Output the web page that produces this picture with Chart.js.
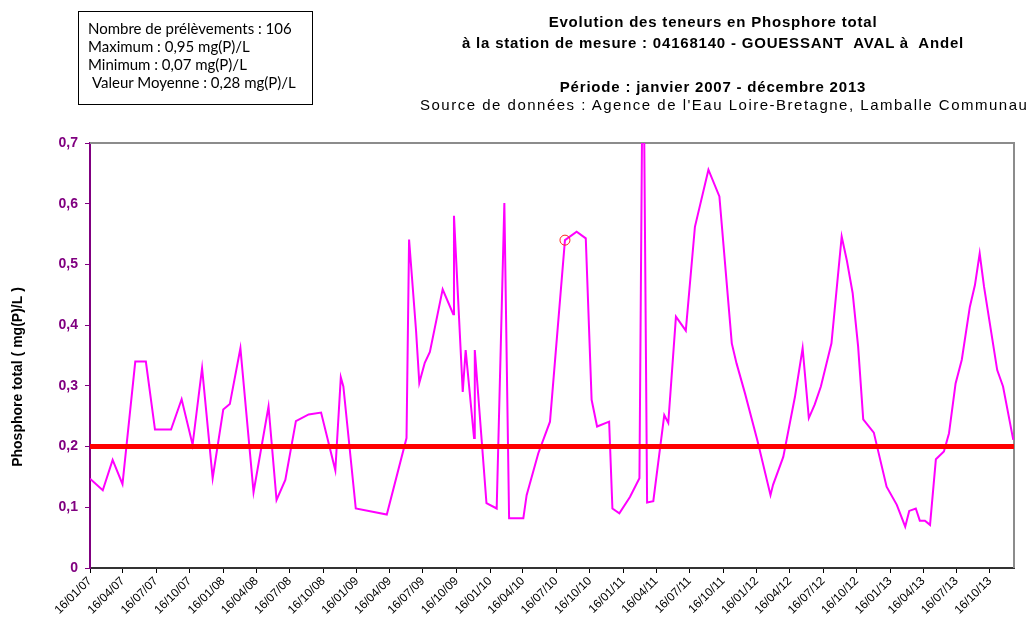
<!DOCTYPE html>
<html lang="fr">
<head>
<meta charset="utf-8">
<title>Phosphore total - Gouessant aval</title>
<script src="https://cdn.jsdelivr.net/npm/chart.js@4"></script>
<style>
    body { margin: 0; background: #fff; }
    #wrap { position: relative; width: 1030px; height: 628px; overflow: hidden; }
    #wrap canvas { position: absolute; left: 0; top: 0; }
    .stats {
        position: absolute; left: 78px; top: 11px; width: 235px; height: 94px;
        border: 1.5px solid #000; font-family: Lato, sans-serif; font-size: 15px;
        color: #000; line-height: 18px; padding: 7px 0 0 9px; box-sizing: border-box;
    }
    .stats div:last-child { padding-left: 4px; }
    .head {
        position: absolute; left: 396px; width: 634px; text-align: center;
        font-family: "Liberation Sans", Arial, sans-serif; font-size: 15px; color: #000;
        white-space: nowrap; letter-spacing: 0.8px;
    }
    .bold { font-weight: bold; }
    .src { left: 420px; width: auto; text-align: left; letter-spacing: 1.5px; }
</style>
</head>
<body>
<div id="wrap">
    <canvas id="chart"></canvas>
    <div class="stats">
        <div>Nombre de prélèvements : 106</div>
        <div>Maximum : 0,95 mg(P)/L</div>
        <div>Minimum : 0,07 mg(P)/L</div>
        <div>Valeur Moyenne : 0,28 mg(P)/L</div>
    </div>
    <div class="head bold" style="top:13px">Evolution des teneurs en Phosphore total</div>
    <div class="head bold" style="top:34px">à la station de mesure : 04168140 - GOUESSANT&nbsp; AVAL à&nbsp; Andel</div>
    <div class="head bold" style="top:78px">Période : janvier 2007 - décembre 2013</div>
    <div class="head src" style="top:96px">Source de données : Agence de l'Eau Loire-Bretagne, Lamballe Communau</div>
</div>
<script>
// Prélèvements (dates)
const sampleDates = [
    '2007-01-16', '2007-02-20', '2007-03-19', '2007-04-15', '2007-05-20', '2007-06-18',
    '2007-07-13', '2007-08-26', '2007-09-24', '2007-10-24', '2007-11-19', '2007-12-18',
    '2008-01-16', '2008-02-03', '2008-03-03', '2008-04-08', '2008-05-19', '2008-06-10',
    '2008-07-04', '2008-08-02', '2008-09-06', '2008-10-10', '2008-11-18', '2008-12-03', '2008-12-10',
    '2009-01-13', '2009-04-08', '2009-06-01', '2009-06-08', '2009-06-27', '2009-07-06',
    '2009-07-21', '2009-08-04', '2009-09-08', '2009-10-07', '2009-10-09', '2009-11-02',
    '2009-11-10', '2009-12-03', '2009-12-05',
    '2010-01-06', '2010-02-03', '2010-02-24', '2010-03-09', '2010-04-17', '2010-04-26',
    '2010-05-28', '2010-06-29', '2010-08-09', '2010-09-10', '2010-10-05', '2010-10-21',
    '2010-11-05', '2010-12-08', '2010-12-17',
    '2011-01-05', '2011-02-03', '2011-03-01', '2011-03-11', '2011-03-22', '2011-04-08',
    '2011-05-08', '2011-05-19', '2011-06-09', '2011-07-06', '2011-07-31', '2011-09-06',
    '2011-10-06', '2011-11-09', '2011-11-22', '2011-12-15',
    '2012-01-19', '2012-02-23', '2012-03-01', '2012-03-29', '2012-04-30', '2012-05-21',
    '2012-06-07', '2012-06-23', '2012-07-10', '2012-08-08', '2012-09-05', '2012-09-19',
    '2012-10-05', '2012-10-20', '2012-11-03', '2012-12-02',
    '2013-01-06', '2013-02-03', '2013-02-26', '2013-03-09', '2013-03-27', '2013-04-07',
    '2013-04-21', '2013-05-05', '2013-05-21', '2013-06-12', '2013-06-26', '2013-07-14',
    '2013-07-31', '2013-08-22', '2013-09-05', '2013-09-18', '2013-09-30', '2013-10-20',
    '2013-11-05', '2013-11-21', '2013-12-19'
];

// Phosphore total en mg(P)/L
const phosphore = [
    0.147, 0.128, 0.178, 0.138, 0.340, 0.340, 0.228, 0.228, 0.278, 0.203, 0.329, 0.148,
    0.261, 0.270, 0.362, 0.125, 0.266, 0.112, 0.145, 0.242, 0.253, 0.256, 0.161, 0.314, 0.299,
    0.098, 0.088, 0.214, 0.541, 0.392, 0.305, 0.338, 0.356, 0.459, 0.418, 0.580, 0.290,
    0.359, 0.214, 0.359,
    0.107, 0.098, 0.601, 0.082, 0.082, 0.120, 0.189, 0.241, 0.540, 0.554, 0.543, 0.277,
    0.233, 0.241, 0.098,
    0.090, 0.117, 0.148, 0.950, 0.108, 0.110, 0.252, 0.239, 0.414, 0.391, 0.562, 0.656,
    0.612, 0.370, 0.337, 0.288,
    0.208, 0.120, 0.137, 0.183, 0.282, 0.362, 0.247, 0.269, 0.299, 0.370, 0.546, 0.507,
    0.453, 0.365, 0.245, 0.223,
    0.134, 0.104, 0.068, 0.094, 0.098, 0.078, 0.078, 0.071, 0.179, 0.192, 0.222, 0.304,
    0.343, 0.430, 0.466, 0.518, 0.463, 0.387, 0.326, 0.299, 0.211
];

const tickLabels = [
    '16/01/07', '16/04/07', '16/07/07', '16/10/07',
    '16/01/08', '16/04/08', '16/07/08', '16/10/08',
    '16/01/09', '16/04/09', '16/07/09', '16/10/09',
    '16/01/10', '16/04/10', '16/07/10', '16/10/10',
    '16/01/11', '16/04/11', '16/07/11', '16/10/11',
    '16/01/12', '16/04/12', '16/07/12', '16/10/12',
    '16/01/13', '16/04/13', '16/07/13', '16/10/13'
];

const seuil = 0.2;               // limite bon état
const highlightDate = '2010-08-09';
const axisStart = '2007-01-16';
const axisEnd = '2013-12-21';

// jours depuis l'epoch
function toDay(iso) {
    const [y, m, d] = iso.split('-').map(Number);
    return Date.UTC(y, m - 1, d) / 86400000;
}
function labelToDay(lbl) {
    const [d, m, y] = lbl.split('/');
    return toDay('20' + y + '-' + m + '-' + d);
}

const xMin = toDay(axisStart);
const xMax = toDay(axisEnd);
const tickDays = tickLabels.map(labelToDay);
const points = sampleDates.map((d, i) => ({ x: toDay(d), y: phosphore[i] }));
const highlightIdx = sampleDates.indexOf(highlightDate);

const FONT = 'Liberation Sans, Arial, sans-serif';

// cadre gris + titre de l'axe Y
const framePlugin = {
    id: 'frame',
    beforeDatasetsDraw(chart) {
        const { ctx, chartArea: a } = chart;
        ctx.save();
        ctx.strokeStyle = '#8c8c8c';
        ctx.lineWidth = 2;
        ctx.beginPath();
        ctx.moveTo(a.left, a.top);
        ctx.lineTo(a.right, a.top);
        ctx.lineTo(a.right, a.bottom);
        ctx.stroke();
        ctx.restore();
    },
    afterDraw(chart) {
        const ctx = chart.ctx;
        ctx.save();
        ctx.translate(18, 377);
        ctx.rotate(-Math.PI / 2);
        ctx.font = 'bold 14px ' + FONT;
        ctx.fillStyle = '#000';
        ctx.textAlign = 'center';
        ctx.textBaseline = 'middle';
        ctx.fillText('Phosphore total ( mg(P)/L )', 0, 0);
        ctx.restore();
    }
};

new Chart(document.getElementById('chart'), {
    type: 'line',
    data: {
        datasets: [{
            label: 'Seuil',
            data: [{ x: xMin, y: seuil }, { x: xMax, y: seuil }],
            borderColor: '#ff0000',
            borderWidth: 5,
            pointRadius: 0,
            order: 0
        }, {
            label: 'Phosphore total',
            data: points,
            borderColor: '#ff00ff',
            borderWidth: 2,
            tension: 0,
            pointRadius: ctx => ctx.dataIndex === highlightIdx ? 5 : 0,
            pointBorderColor: '#ff2020',
            pointBackgroundColor: 'rgba(0,0,0,0)',
            pointBorderWidth: 1,
            order: 1
        }]
    },
    options: {
        responsive: true,
        maintainAspectRatio: false,
        animation: false,
        layout: { padding: { top: 143, right: 16, bottom: 0, left: 0 } },
        plugins: {
            legend: { display: false },
            tooltip: { enabled: false }
        },
        scales: {
            x: {
                type: 'linear',
                min: xMin,
                max: xMax,
                afterBuildTicks: scale => {
                    scale.ticks = tickDays.map(v => ({ value: v }));
                },
                afterFit: scale => { scale.height = 60; },
                grid: { drawOnChartArea: false, tickLength: 5, color: '#000' },
                border: { color: '#333', width: 2 },
                ticks: {
                    autoSkip: false,
                    minRotation: 45,
                    maxRotation: 45,
                    padding: 1,
                    color: '#000',
                    font: { family: FONT, size: 12 },
                    callback: (v, i) => tickLabels[i]
                }
            },
            y: {
                min: 0,
                max: 0.7,
                afterFit: scale => { scale.width = 90; },
                grid: { drawOnChartArea: false, tickLength: 5, color: '#800080' },
                border: { color: '#800080', width: 2 },
                ticks: {
                    stepSize: 0.1,
                    padding: 7,
                    color: '#800080',
                    font: { family: FONT, size: 14, weight: 'bold' },
                    callback: v => v === 0 ? '0' : v.toFixed(1).replace('.', ',')
                }
            }
        }
    },
    plugins: [framePlugin]
});
</script>
</body>
</html>
